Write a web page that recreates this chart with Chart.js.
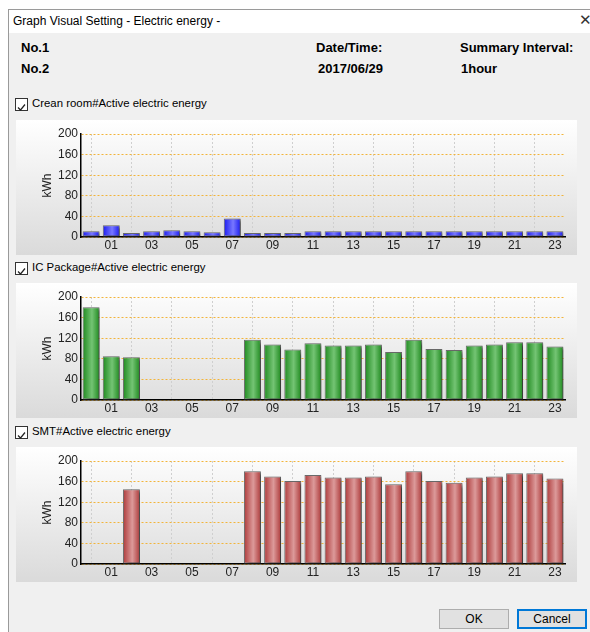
<!DOCTYPE html>
<html>
<head>
<meta charset="utf-8">
<title>Graph Visual Setting - Electric energy -</title>
<script src="https://cdn.jsdelivr.net/npm/chart.js@4.4.0/dist/chart.umd.min.js"></script>
<style>
  body { margin: 0; width: 590px; height: 632px; background: #fff; overflow: hidden; position: relative;
         font-family: "Liberation Sans", Arial, sans-serif; color: #000; }
  .abs { position: absolute; white-space: nowrap; }
  #frame { left: 8px; top: 9px; width: 600px; height: 640px; border-left: 1px solid #9a9a9a; border-top: 1px solid #9a9a9a; background: #f0f0f0; }
  #titlebar { left: 9px; top: 10px; width: 600px; height: 23px; background: #fff; }
  #title { left: 13px; top: 14px; font: 12px "Liberation Sans", sans-serif; color: #000; }
  #close { left: 579px; top: 11px; font: 15px "DejaVu Sans", sans-serif; color: #333; }
  .hdr { font-weight: bold; font-size: 13px; }
  .chk { font-size: 11.4px; }
  .box { width: 11px; height: 11px; border: 1px solid #333; background: #fff; }
  .panel { left: 16px; width: 561px; height: 135px; background: linear-gradient(#ffffff, #dadada); }
  .btn { height: 20px; width: 70px; box-sizing: border-box; border: 1px solid #adadad; background: #e1e1e1;
         font-size: 12px; text-align: center; line-height: 18px; }
</style>
</head>
<body>
<div id="frame" class="abs"></div>
<div id="titlebar" class="abs"></div>
<div id="title" class="abs">Graph Visual Setting - Electric energy -</div>
<div id="close" class="abs">✕</div>

<div class="abs hdr" style="left:21px;top:40px">No.1</div>
<div class="abs hdr" style="left:21px;top:61px">No.2</div>
<div class="abs hdr" style="left:316px;top:40px">Date/Time:</div>
<div class="abs hdr" style="left:318px;top:61px">2017/06/29</div>
<div class="abs hdr" style="left:460px;top:40px">Summary Interval:</div>
<div class="abs hdr" style="left:461px;top:61px">1hour</div>

<div class="abs box" style="left:15px;top:98px"><svg width="11" height="11"><polyline points="2,5.5 4.5,8 9,2.5" fill="none" stroke="#222" stroke-width="1.2"/></svg></div>
<div class="abs chk" style="left:32px;top:97px">Crean room#Active electric energy</div>
<div class="abs panel" style="top:120px"><canvas id="chartCrean" width="561" height="135"></canvas></div>

<div class="abs box" style="left:15px;top:262px"><svg width="11" height="11"><polyline points="2,5.5 4.5,8 9,2.5" fill="none" stroke="#222" stroke-width="1.2"/></svg></div>
<div class="abs chk" style="left:32px;top:261px">IC Package#Active electric energy</div>
<div class="abs panel" style="top:283px"><canvas id="chartIc" width="561" height="135"></canvas></div>

<div class="abs box" style="left:15px;top:426px"><svg width="11" height="11"><polyline points="2,5.5 4.5,8 9,2.5" fill="none" stroke="#222" stroke-width="1.2"/></svg></div>
<div class="abs chk" style="left:32px;top:425px">SMT#Active electric energy</div>
<div class="abs panel" style="top:447px"><canvas id="chartSmt" width="561" height="135"></canvas></div>

<div class="abs btn" style="left:439px;top:609px">OK</div>
<div class="abs btn" style="left:517px;top:609px;border:2px solid #0078d7;line-height:16px">Cancel</div>

<script>
  // hourly buckets of 2017/06/29
  const hours = ['00', '01', '02', '03', '04', '05', '06', '07', '08', '09', '10', '11',
                 '12', '13', '14', '15', '16', '17', '18', '19', '20', '21', '22', '23'];
  const shownHours = ['01', '03', '05', '07', '09', '11', '13', '15', '17', '19', '21', '23'];
  const yTickValues = [0, 40, 80, 120, 160, 200];

  // kWh per hour
  const creanRoom = [11, 23, 8, 11, 13, 11, 9, 36, 8, 8, 8, 11, 11, 11, 11, 11, 11, 11, 11, 11, 11, 11, 11, 11];
  const icPackage = [180, 85, 83, 0, 0, 0, 0, 0, 117, 108, 98, 110, 106, 106, 108, 93, 117, 99, 97, 106, 108, 112, 112, 104];
  const smt = [0, 0, 145, 0, 0, 0, 0, 0, 180, 170, 161, 173, 168, 168, 170, 155, 180, 161, 158, 168, 170, 176, 176, 166];

  const BAR_PCT = 0.84;

  // cylinder-like fill: dark edges, light band in the middle
  function barFill(dark, light) {
    return function (c) {
      const x = c.chart.scales.x;
      if (!x || c.type !== 'data') return dark;
      const cx = x.getPixelForValue(c.dataIndex);
      const half = x.width / hours.length * BAR_PCT / 2;
      if (!isFinite(cx) || !isFinite(half) || half <= 0) return dark;
      const g = c.chart.ctx.createLinearGradient(cx - half, 0, cx + half, 0);
      g.addColorStop(0, dark);
      g.addColorStop(0.55, light);
      g.addColorStop(1, dark);
      return g;
    };
  }

  // drop shadow behind the bars
  const barShadow = {
    id: 'barShadow',
    beforeDatasetsDraw(chart) {
      const ctx = chart.ctx;
      ctx.save();
      ctx.shadowColor = 'rgba(0,0,0,0.55)';
      ctx.shadowOffsetX = 3;
      ctx.shadowOffsetY = 2;
      ctx.shadowBlur = 3;
    },
    afterDatasetsDraw(chart) {
      chart.ctx.restore();
    }
  };

  function makeChart(id, values, dark, light) {
    const chart = new Chart(document.getElementById(id), {
      type: 'bar',
      data: {
        labels: hours,
        datasets: [{
          data: values,
          backgroundColor: barFill(dark, light),
          borderColor: '#6a6a6a',
          borderWidth: 1,
          borderSkipped: false,
          barPercentage: BAR_PCT,
          categoryPercentage: 1
        }]
      },
      options: {
        responsive: false,
        animation: false,
        events: [],
        layout: { padding: { left: 0, right: 12, top: 14, bottom: 0 } },
        plugins: { legend: { display: false }, tooltip: { enabled: false } },
        scales: {
          x: {
            grid: {
              offset: false,
              drawTicks: false,
              color: c => (c.index % 2 === 0 ? '#cfcfcf' : 'rgba(0,0,0,0)'),
              lineWidth: 1
            },
            border: { display: true, color: '#000', width: 1.5, dash: [2, 2] },
            ticks: {
              autoSkip: false,
              maxRotation: 0,
              padding: 1,
              color: '#222',
              font: { family: 'Liberation Sans', size: 12 },
              callback: function (v) {
                const lab = this.getLabelForValue(v);
                return shownHours.includes(lab) ? lab : '';
              }
            },
            afterFit: s => { s.height = 18; }
          },
          y: {
            min: 0,
            max: 200,
            afterBuildTicks: s => { s.ticks = yTickValues.map(v => ({ value: v })); },
            afterFit: s => { s.width = 65; },
            grid: { drawTicks: false, color: '#f2b43a', lineWidth: 1 },
            border: { display: true, color: '#000', width: 1.5, dash: [2, 2] },
            ticks: {
              padding: 3,
              color: '#222',
              font: { family: 'Liberation Sans', size: 12 }
            },
            title: {
              display: true,
              text: 'kWh',
              color: '#222',
              font: { family: 'Liberation Sans', size: 12 },
              padding: { top: 24, bottom: 0 }
            }
          }
        }
      },
      plugins: [barShadow]
    });
    // second pass so the bar gradients see the laid-out scale
    chart.update();
  }

  makeChart('chartCrean', creanRoom, '#1a1af0', '#7878ff');
  makeChart('chartIc', icPackage, '#1f8a1f', '#74c474');
  makeChart('chartSmt', smt, '#ad3a3a', '#dc9a9a');
</script>
</body>
</html>
